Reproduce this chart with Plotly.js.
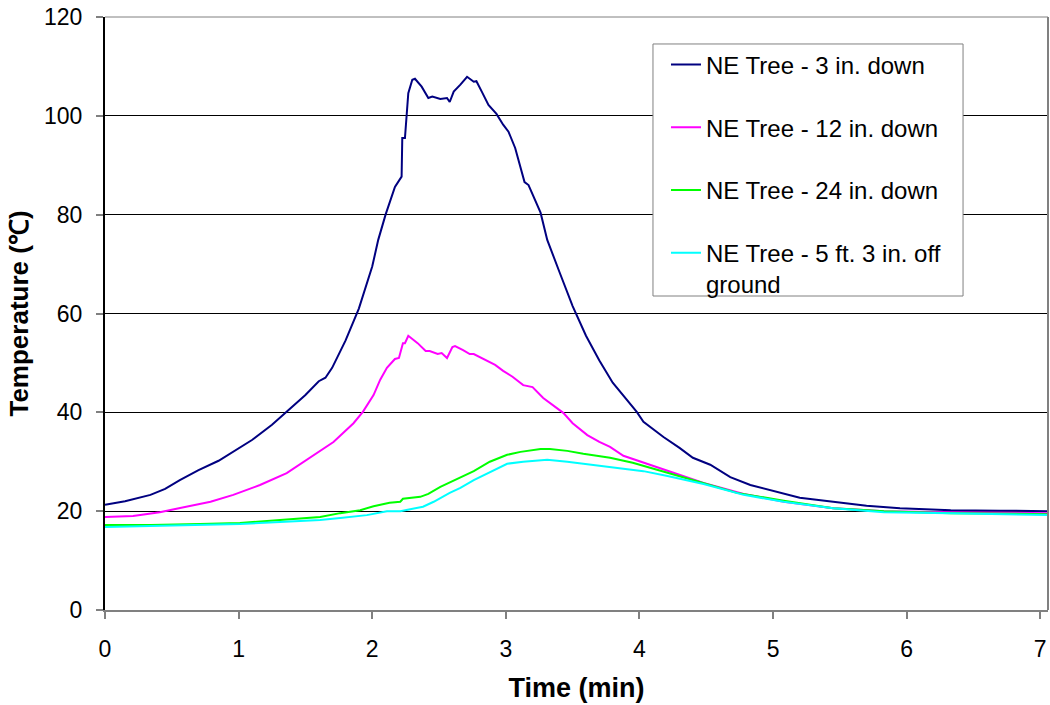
<!DOCTYPE html>
<html>
<head>
<meta charset="utf-8">
<script src="https://cdn.plot.ly/plotly-3.0.1.min.js"></script>
<style>html,body{margin:0;padding:0;background:#fff;}#chart{width:1050px;height:705px;}</style>
</head>
<body>
<div id="chart"></div>
<script>
// Series names
const seriesNames = [
  "NE Tree - 3 in. down",
  "NE Tree - 12 in. down",
  "NE Tree - 24 in. down",
  "NE Tree - 5 ft. 3 in. off<br>ground"
];
const seriesColors = ["#000080", "#FF00FF", "#00FF00", "#00FFFF"];

// NE Tree - 3 in. down
const t3in = [0,0.15,0.34,0.45,0.56,0.7,0.85,0.96,1.1,1.25,1.36,1.5,1.6,1.65,1.7,1.8,1.9,2.0,2.045,2.10,2.17,2.19,2.22,2.225,2.245,2.27,2.30,2.32,2.37,2.42,2.45,2.51,2.56,2.58,2.61,2.66,2.71,2.76,2.78,2.82,2.87,2.93,2.98,3.02,3.07,3.14,3.17,3.26,3.31,3.4,3.5,3.6,3.7,3.8,3.91,3.98,4.03,4.18,4.30,4.40,4.53,4.68,4.83,5.0,5.2,5.45,5.70,5.95,6.33,6.7,7.06];
const T3in = [21.3,22.0,23.3,24.5,26.3,28.3,30.2,32.0,34.4,37.5,40.1,43.5,46.3,47.0,49,54.5,61,69.5,74.9,80,85.6,86.4,87.7,95.5,95.5,104.6,107.3,107.5,105.9,103.6,103.9,103.4,103.6,102.8,104.9,106.3,107.9,106.9,107.0,104.9,102.2,100.4,98.2,96.8,93.5,86.6,86.0,80.4,74.9,68.5,61.5,55.5,50.5,46,42.5,40.1,38.1,35.0,32.8,30.8,29.4,26.9,25.3,24.1,22.7,21.9,21.1,20.6,20.2,20.1,20.0];

// NE Tree - 12 in. down
const t12in = [0,0.21,0.41,0.56,0.79,0.96,1.16,1.36,1.56,1.71,1.86,1.93,2.01,2.06,2.11,2.17,2.20,2.23,2.245,2.27,2.34,2.40,2.43,2.49,2.52,2.56,2.60,2.62,2.68,2.73,2.76,2.83,2.92,2.98,3.05,3.13,3.20,3.28,3.36,3.43,3.50,3.61,3.70,3.78,3.88,4.03,4.21,4.48,4.78,5.08,5.45,5.83,6.33,7.06];
const T12in = [18.8,19.0,19.8,20.6,21.9,23.3,25.3,27.7,31.4,34.0,37.8,40.1,43.5,46.6,49,50.8,51,54,54,55.5,54,52.4,52.4,51.8,52,51,53.2,53.4,52.6,51.8,51.8,50.8,49.6,48.4,47.2,45.5,45.1,42.9,41.3,39.9,37.8,35.4,34.0,33,31.2,29.8,28.1,25.7,23.5,21.9,20.6,20.0,19.8,19.6];

// NE Tree - 24 in. down
const t24in = [0,0.34,0.71,1.01,1.31,1.61,1.76,1.91,2.01,2.06,2.13,2.21,2.23,2.36,2.42,2.51,2.63,2.76,2.88,3.01,3.11,3.26,3.33,3.46,3.58,3.78,3.95,4.15,4.45,4.73,5.08,5.45,5.83,6.33,7.06];
const T24in = [17.2,17.2,17.4,17.6,18.2,18.8,19.6,20.2,21.0,21.3,21.7,21.9,22.5,22.9,23.5,24.9,26.5,28.1,30,31.4,32,32.6,32.6,32.2,31.6,30.8,29.8,28.3,25.9,23.7,22.1,20.6,20.0,19.6,19.4];

// NE Tree - 5 ft. 3 in. off ground
const t5ft = [0,0.34,0.71,1.01,1.31,1.61,1.76,1.96,2.11,2.21,2.38,2.46,2.58,2.66,2.76,2.88,3.01,3.13,3.26,3.31,3.46,3.58,3.83,4.03,4.21,4.48,4.78,5.08,5.45,5.83,6.33,7.06];
const T5ft = [16.8,17.0,17.2,17.4,17.8,18.2,18.6,19.2,20.0,20.0,20.9,21.9,23.7,24.7,26.3,27.9,29.6,30.0,30.2,30.4,30.0,29.6,28.7,28.1,27.1,25.5,23.3,21.9,20.6,19.8,19.6,19.2];

const xTicks = [0,1,2,3,4,5,6,7];
const yTicks = [0,20,40,60,80,100,120];

const xs = [t3in, t12in, t24in, t5ft];
const ys = [T3in, T12in, T24in, T5ft];

const traces = xs.map((x, i) => ({
  x: x, y: ys[i], type: "scatter", mode: "lines",
  name: seriesNames[i], legendgroup: "g" + i,
  line: {color: seriesColors[i], width: 2}
}));

const font = "Liberation Sans, Arial, sans-serif";
const layout = {
  width: 1050, height: 705,
  margin: {l: 105, r: 2, t: 17, b: 95},
  paper_bgcolor: "#fff", plot_bgcolor: "#fff",
  font: {family: font, size: 23, color: "#000"},
  showlegend: true,
  legend: {
    x: 0.5949, y: 0.957, xanchor: "left", yanchor: "top",
    borderwidth: 0, bgcolor: "rgba(0,0,0,0)",
    font: {family: font, size: 24, color: "#000"},
    traceorder: "grouped", tracegroupgap: 28.5, valign: "top"
  },
  xaxis: {
    range: [0, 7.058], tickvals: xTicks, ticktext: xTicks.map(String),
    showgrid: false, zeroline: false,
    showline: true, linecolor: "#808080", linewidth: 2,
    ticks: "outside", ticklen: 7, tickcolor: "#808080", tickwidth: 2,
    ticklabelstandoff: 10,
    tickfont: {family: font, size: 23, color: "#000"},
    title: {text: "Time (min)", font: {family: font, size: 27, color: "#000", weight: "bold"}, standoff: 18}
  },
  yaxis: {
    range: [0, 120], tickvals: yTicks, ticktext: yTicks.map(String),
    showgrid: true, gridcolor: "#000", gridwidth: 1, zeroline: false,
    showline: true, linecolor: "#000", linewidth: 2,
    ticks: "outside", ticklen: 7, tickcolor: "#808080", tickwidth: 2,
    ticklabelstandoff: 9,
    tickfont: {family: font, size: 23, color: "#000"},
    title: {text: "Temperature (℃)", font: {family: font, size: 26, color: "#000", weight: "bold"}, standoff: 8}
  },
  shapes: [
    {type: "rect", xref: "paper", yref: "paper", x0: 0.5811, x1: 0.9099, y0: 0.5295, y1: 0.9545,
     fillcolor: "#fff", line: {color: "#808080", width: 1}, layer: "above"},
    {type: "line", xref: "paper", yref: "paper", x0: 1, x1: 1, y0: 0, y1: 1, line: {color: "#808080", width: 2}},
    {type: "line", xref: "paper", yref: "paper", x0: 0, x1: 1, y0: 1, y1: 1, line: {color: "#808080", width: 1}}
  ]
};

Plotly.newPlot("chart", traces, layout, {displayModeBar: false, staticPlot: true});
</script>
</body>
</html>
